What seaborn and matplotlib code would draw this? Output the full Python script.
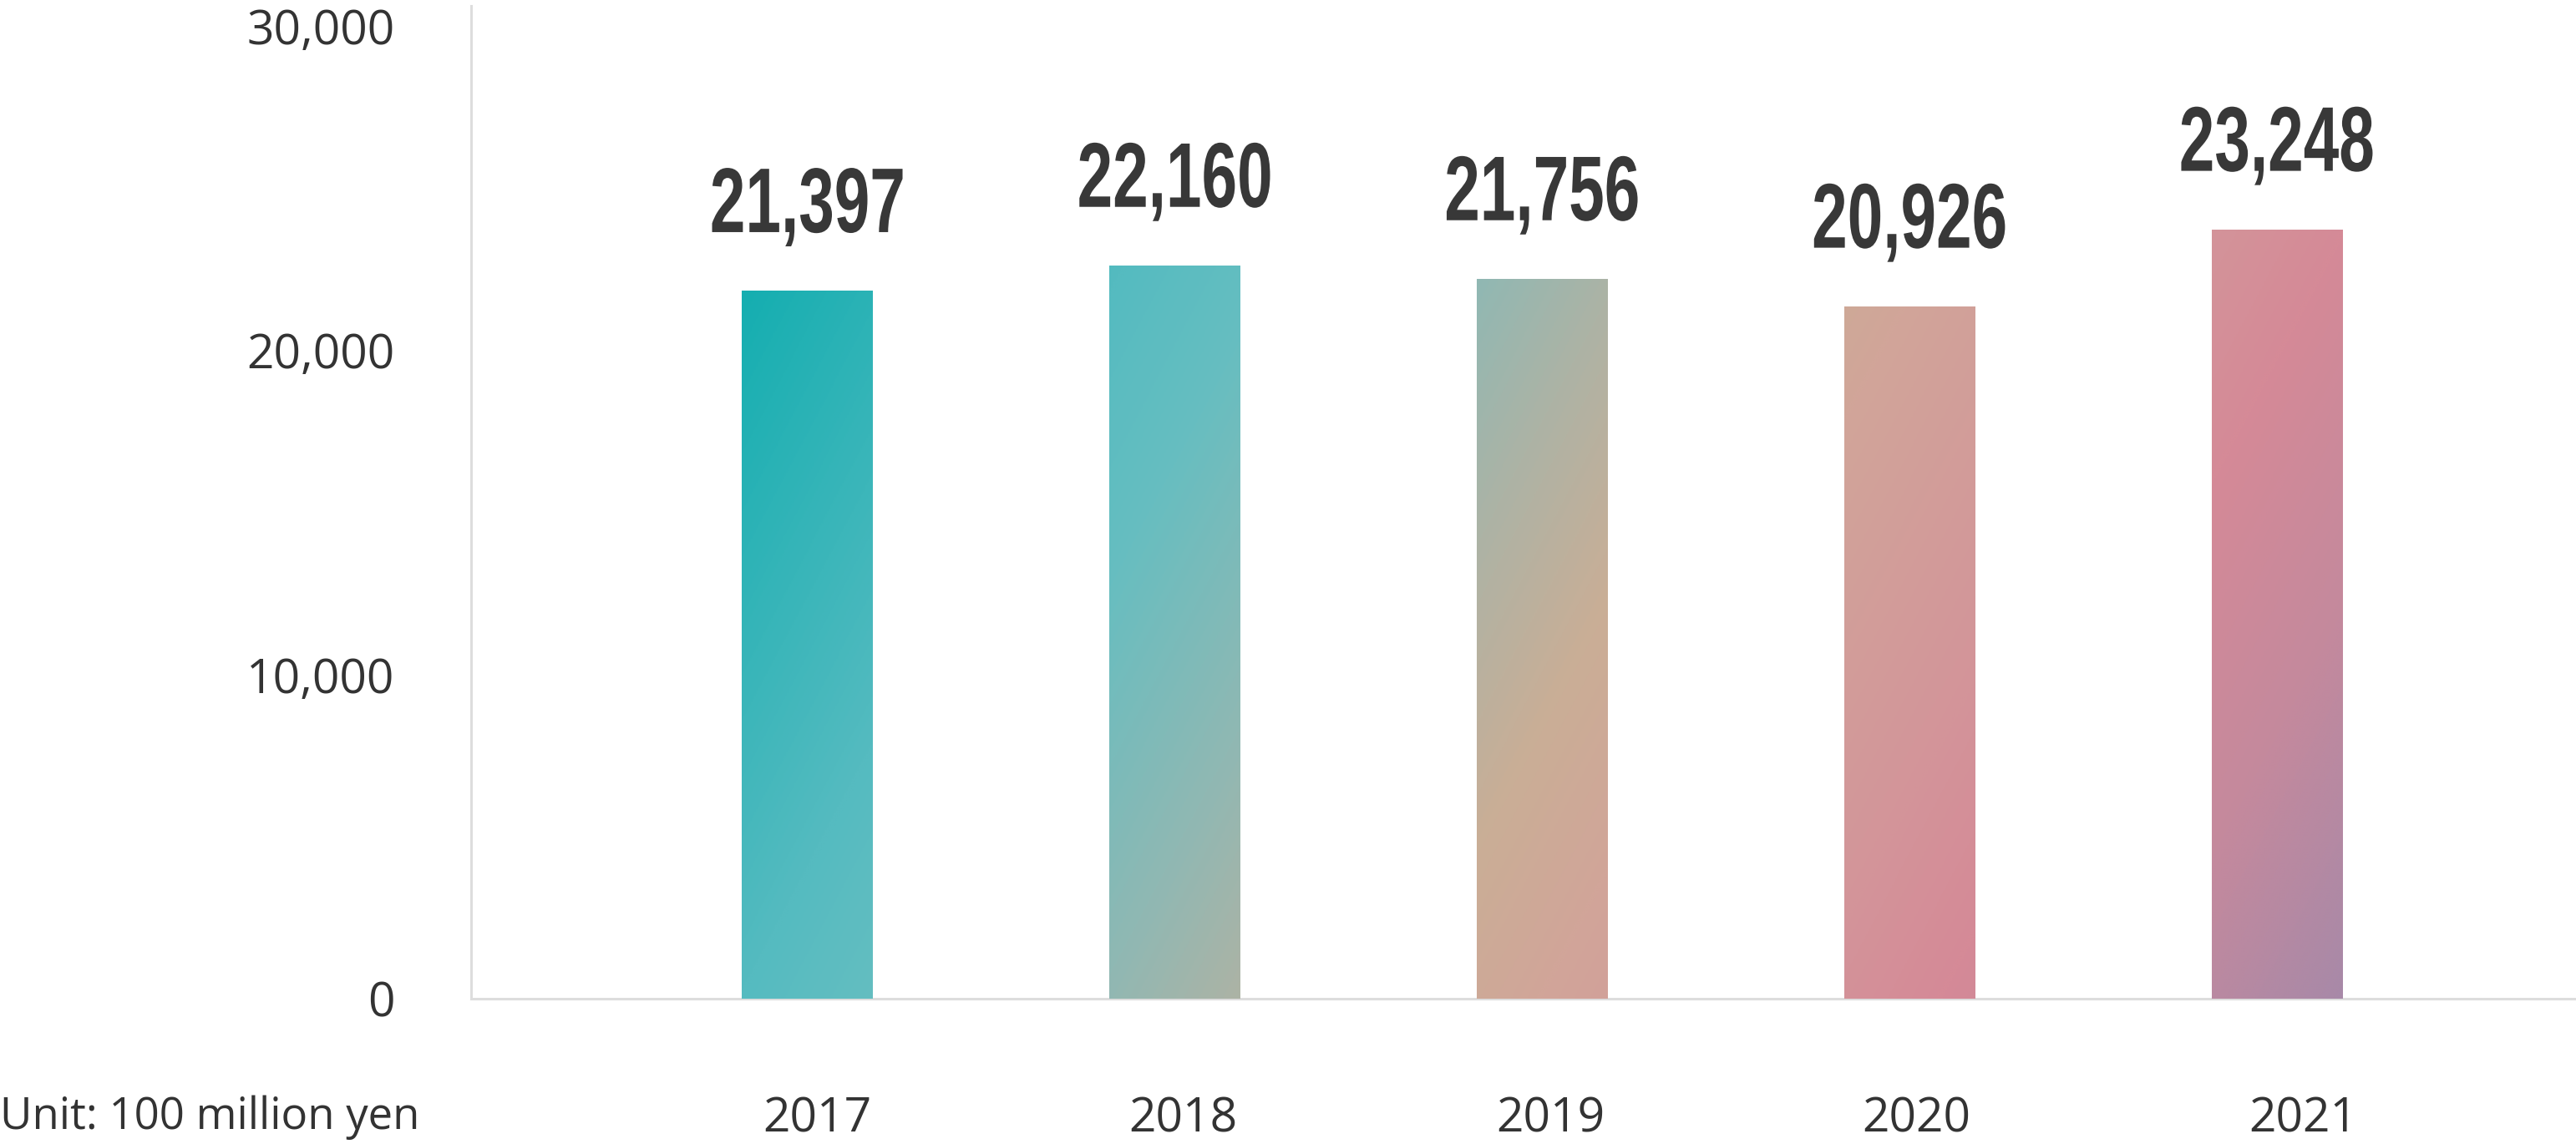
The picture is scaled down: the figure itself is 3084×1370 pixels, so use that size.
import numpy as np
import pandas as pd
import seaborn as sns
import matplotlib.pyplot as plt
import matplotlib.transforms as mtransforms
from matplotlib.colors import LinearSegmentedColormap
from matplotlib.textpath import TextPath
from matplotlib.patches import PathPatch
from matplotlib.font_manager import FontProperties

# data (unit: 100 million yen)
years = ["2017", "2018", "2019", "2020", "2021"]
sales = [21397, 22160, 21756, 20926, 23248]
yticks = [0, 10000, 20000, 30000]
unit_text = "Unit: 100 million yen"

df = pd.DataFrame({"year": years, "sales": sales})

# diagonal gradient used for the bars (teal -> beige -> pink -> mauve)
grad_stops = [0.0, 0.20, 0.27, 0.38, 0.45, 0.53, 0.60, 0.72, 0.80, 0.90, 1.0]
grad_colors = ["#0FADAF", "#55BBC0", "#65BEC1", "#90B8B3", "#ADB3A5", "#CAAE96",
               "#D1A599", "#D3969A", "#D58A97", "#C4899D", "#A889A8"]
cmap = LinearSegmentedColormap.from_list("bars", list(zip(grad_stops, grad_colors)))

sns.set_theme(style="white")
plt.rcParams["font.family"] = ["Open Sans", "DejaVu Sans"]

text_color = "#333333"
fig = plt.figure(figsize=(30.84, 13.70), dpi=100)
ax = fig.add_axes([0.1829, 0.1270, 0.8171, 0.8679])

sns.barplot(data=df, x="year", y="sales", width=0.356, color="#cccccc",
            linewidth=0, ax=ax, zorder=3)

xlim = (-0.915, 4.814)
ylim = (0, 30000)
ax.set_xlim(*xlim)
ax.set_ylim(*ylim)

# fill each bar with one shared gradient, clipped to the bar
pos = ax.get_position()
w_px = fig.get_figwidth() * fig.dpi * pos.width
h_px = fig.get_figheight() * fig.dpi * pos.height
sx = w_px / (xlim[1] - xlim[0])
sy = h_px / (ylim[1] - ylim[0])

bars = list(ax.patches)
x0 = min(p.get_x() for p in bars)
x1 = max(p.get_x() + p.get_width() for p in bars)
ytop = max(p.get_height() for p in bars)

xs = np.linspace(xlim[0], xlim[1], 1400)
ys = np.linspace(ylim[0], ylim[1], 700)
X, Y = np.meshgrid(xs, ys)
k = 1.9  # horizontal change is ~1.9x faster than vertical per pixel
span = (x1 - x0) * sx + ytop * sy / k
T = ((X - x0) * sx + (ytop - Y) * sy / k) / span

for p in bars:
    im = ax.imshow(T, extent=(xlim[0], xlim[1], ylim[0], ylim[1]), origin="lower",
                   cmap=cmap, vmin=0, vmax=1, aspect="auto", zorder=3.5,
                   interpolation="bilinear")
    im.set_clip_path(p)

ax.set_xlim(*xlim)
ax.set_ylim(*ylim)

# value labels: bold font squeezed horizontally to look condensed
fp = FontProperties(family="Liberation Sans", weight="bold")
zero = TextPath((0, 0), "0", size=1, prop=fp).get_extents()
ref = TextPath((0, 0), "21,397", size=1, prop=fp).get_extents()
lab_sy = 78 / (zero.y1 - zero.y0)
lab_sx = 228 / ref.width
for p, v in zip(bars, sales):
    path = TextPath((0, 0), f"{v:,}", size=1, prop=fp)
    ext = path.get_extents()
    cx = p.get_x() + p.get_width() / 2
    tr = (mtransforms.Affine2D().translate(-(ext.x0 + ext.x1) / 2, 0)
          .scale(lab_sx, lab_sy).translate(0, 70)
          + mtransforms.ScaledTranslation(cx, p.get_height(), ax.transData))
    ax.add_artist(PathPatch(path, transform=tr, facecolor="#383838",
                            edgecolor="none", clip_on=False, zorder=5))

# axes styling
ax.set_xlabel("")
ax.set_ylabel("")
ax.set_yticks(yticks)
ax.set_yticklabels([f"{v:,}" for v in yticks])
ax.tick_params(axis="both", length=0, labelsize=41, labelcolor=text_color)
ax.tick_params(axis="y", pad=66)
ax.tick_params(axis="x", pad=84)
for side in ["top", "right"]:
    ax.spines[side].set_visible(False)
for side in ["left", "bottom"]:
    ax.spines[side].set_color("#DDDDDD")
    ax.spines[side].set_linewidth(2.2)
    ax.spines[side].set_zorder(2)

# the original's y labels drift slightly below their gridline positions
for lab, v in zip(ax.get_yticklabels(), yticks):
    off = v / 30000 * 25 / fig.dpi
    lab.set_transform(lab.get_transform()
                      + mtransforms.ScaledTranslation(0, -off, fig.dpi_scale_trans))
# year labels sit a little right of the bar centres
x_shift = [12, 10, 10, 8, 31]
for lab, s in zip(ax.get_xticklabels(), x_shift):
    lab.set_transform(lab.get_transform()
                      + mtransforms.ScaledTranslation(s / fig.dpi, 0, fig.dpi_scale_trans))

fig.text(0.0, 1 - 1352 / 1370, unit_text, ha="left", va="baseline",
         fontsize=38, color=text_color)

fig.savefig("out.png", dpi=100)
